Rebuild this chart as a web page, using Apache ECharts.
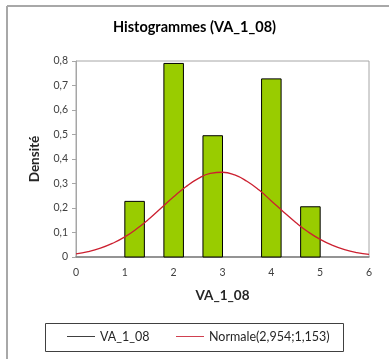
<!DOCTYPE html>
<html>
<head>
<meta charset="utf-8">
<script src="https://cdn.jsdelivr.net/npm/echarts@6/dist/echarts.min.js"></script>
<style>html,body{margin:0;padding:0;background:#fff;}#c{width:389px;height:359px;}</style>
</head>
<body>
<div id="c"></div>
<script>
const binStart = [1.0, 1.8, 2.6, 3.8, 4.6];
const binEnd   = [1.4, 2.2, 3.0, 4.2, 5.0];
const density  = [0.227, 0.79, 0.495, 0.727, 0.205];
const normX = [0,0.25,0.5,0.75,1,1.25,1.5,1.75,2,2.25,2.5,2.75,3,3.25,3.5,3.75,4,4.25,4.5,4.75,5,5.25,5.5,5.75,6];
const normY = [0.013,0.022,0.036,0.056,0.082,0.116,0.156,0.201,0.246,0.287,0.320,0.341,0.346,0.335,0.309,0.273,0.229,0.184,0.141,0.103,0.072,0.048,0.030,0.018,0.011];
const xTicks = [0,1,2,3,4,5,6];
const yTicks = [0,0.1,0.2,0.3,0.4,0.5,0.6,0.7,0.8];
const histName = 'VA_1_08';
const normName = 'Normale(2,954;1,153)';

const FONT = 'Lato, "Open Sans", sans-serif';
const chart = echarts.init(document.getElementById('c'), null, {renderer:'canvas'});
const fmt = v => String(Math.round(v*10)/10).replace('.', ',');
chart.setOption({
  animation: false,
  backgroundColor: '#fff',
  title: {
    text: 'Histogrammes (VA_1_08)', left: 'center', top: 20, padding: 0,
    textStyle: {fontFamily: FONT, fontSize: 14.5, fontWeight: 'bold', color: '#000'}
  },
  graphic: [
    {type:'line', shape:{x1:7, y1:6, x2:389, y2:6}, style:{stroke:'#a8a8a8', lineWidth:2}, silent:true},
    {type:'line', shape:{x1:7, y1:6, x2:7, y2:359}, style:{stroke:'#a8a8a8', lineWidth:2}, silent:true},
    {type:'rect', shape:{x:45.5, y:323.5, width:298, height:28}, style:{fill:'none', stroke:'#404040', lineWidth:1}, silent:true}
  ],
  legend: [
    {data:[{name:histName, itemStyle:{color:'#404040'}}], left:67, top:330, padding:0, itemWidth:28, itemHeight:1, icon:'rect',
     textStyle:{fontFamily:FONT, fontSize:12.5, color:'#262626'}},
    {data:[{name:normName, itemStyle:{color:'#d04050'}}], left:176, top:330, padding:0, itemWidth:28, itemHeight:1, icon:'rect',
     textStyle:{fontFamily:FONT, fontSize:12.5, color:'#262626'}}
  ],
  grid: {left:76, right:20, top:61, bottom:102, show:true, borderColor:'#a6a6a6', borderWidth:1},
  xAxis: {
    type:'value', min:0, max:6, interval:1,
    name:'VA_1_08', nameLocation:'middle', nameGap:32,
    nameTextStyle:{fontFamily:FONT, fontSize:13.5, fontWeight:'bold', color:'#262626'},
    axisLine:{show:true, lineStyle:{color:'#808080', width:1.5}},
    axisTick:{show:false},
    splitLine:{show:false},
    axisLabel:{fontFamily:FONT, fontSize:10.5, color:'#404040', margin:10, formatter: v => xTicks.includes(v) ? String(v) : ''}
  },
  yAxis: {
    type:'value', min:0, max:0.8, interval:0.1,
    name:'Densité', nameLocation:'middle', nameGap:34,
    nameTextStyle:{fontFamily:FONT, fontSize:13.5, fontWeight:'bold', color:'#262626'},
    axisLine:{show:true, lineStyle:{color:'#a6a6a6'}},
    axisTick:{show:true, length:4, lineStyle:{color:'#a6a6a6'}},
    splitLine:{show:false},
    axisLabel:{fontFamily:FONT, fontSize:10.5, color:'#404040', margin:8, formatter: v => fmt(v)}
  },
  series: [
    {
      name: histName, type:'custom',
      data: binStart.map((s,i)=>[s, binEnd[i], density[i]]),
      encode: {x:[0,1], y:2},
      itemStyle:{color:'#404040'},
      renderItem: function(params, api){
        const tl = api.coord([api.value(0), api.value(2)]);
        const br = api.coord([api.value(1), 0]);
        return {type:'rect', shape:{x:tl[0], y:tl[1], width:br[0]-tl[0], height:br[1]-tl[1]},
                style:{fill:'#99cc00', stroke:'#000', lineWidth:1}};
      },
      z: 2
    },
    {
      name: normName, type:'line', smooth:true, showSymbol:false, symbol:'none',
      data: normX.map((x,i)=>[x, normY[i]]),
      lineStyle:{color:'#cc2030', width:1.3},
      itemStyle:{color:'#cc2030'},
      z: 3
    }
  ]
});
</script>
</body>
</html>
